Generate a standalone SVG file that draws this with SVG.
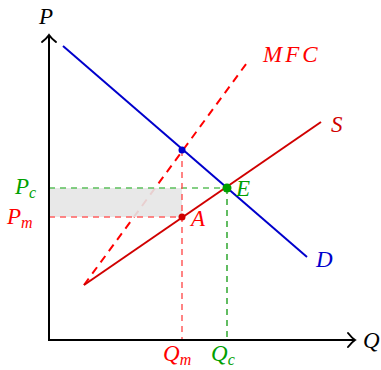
<svg xmlns="http://www.w3.org/2000/svg" width="381" height="370" viewBox="0 0 381 370">
<style>
text{font-family:"Liberation Serif","DejaVu Serif",serif;font-style:italic;font-size:23px}
.sub{font-size:16px}
.ax{stroke:#000;stroke-width:2;fill:none}
.head{stroke:#000;stroke-width:2;fill:none;stroke-linecap:round}
</style>
<rect x="0" y="0" width="381" height="370" fill="#fff"/>
<g id="curves">
<line id="mfc" x1="84" y1="285" x2="249" y2="60" stroke="#ff0000" stroke-width="2" stroke-dasharray="8,6"/>
<line id="supply" x1="84" y1="285" x2="321" y2="122" stroke="#d00000" stroke-width="2"/>
<line id="demand" x1="63" y1="46" x2="307" y2="257" stroke="#0000cc" stroke-width="2"/>
</g>
<rect id="surplus" x="49" y="188" width="133" height="29" fill="#e6e6e6" fill-opacity="0.9"/>
<g id="guides" stroke-width="1.4" stroke-dasharray="6,5">
<line x1="49" y1="188" x2="227" y2="188" stroke="#5cc05c"/>
<line x1="49" y1="217" x2="182" y2="217" stroke="#ff6060"/>
<line x1="182" y1="150" x2="182" y2="340" stroke="#ff5050"/>
<line x1="227" y1="188" x2="227" y2="340" stroke="#20a020"/>
</g>
<g id="axes">
<line class="ax" x1="49" y1="341" x2="49" y2="36"/>
<path class="head" d="M42,42 Q47,38 49,35 Q51,38 56,42"/>
<line class="ax" x1="48" y1="340" x2="354" y2="340"/>
<path class="head" d="M348,333 Q352,338 355,340 Q352,342 348,347"/>
</g>
<g id="points">
<circle cx="182" cy="150" r="3.5" fill="#0000cc"/>
<circle cx="182" cy="217" r="3.5" fill="#d00000"/>
<circle cx="227" cy="188" r="4.5" fill="#00a000"/>
</g>
<g id="labels">
<text x="39" y="24" fill="#000">P</text>
<text x="363" y="348" fill="#000">Q</text>
<text x="263" y="62" fill="#ff0000" letter-spacing="3">MFC</text>
<text x="331" y="132" fill="#d00000">S</text>
<text x="316" y="267" fill="#0000cc">D</text>
<text x="236" y="196" fill="#00a000">E</text>
<text x="191" y="226" fill="#ff0000">A</text>
<text x="15" y="194" fill="#00a000">P<tspan class="sub" dy="4">c</tspan></text>
<text x="7" y="224" fill="#ff0000">P<tspan class="sub" dy="4">m</tspan></text>
<text x="163" y="361" fill="#ff0000">Q<tspan class="sub" dy="4">m</tspan></text>
<text x="211" y="361" fill="#00a000">Q<tspan class="sub" dy="4">c</tspan></text>
</g>
</svg>
